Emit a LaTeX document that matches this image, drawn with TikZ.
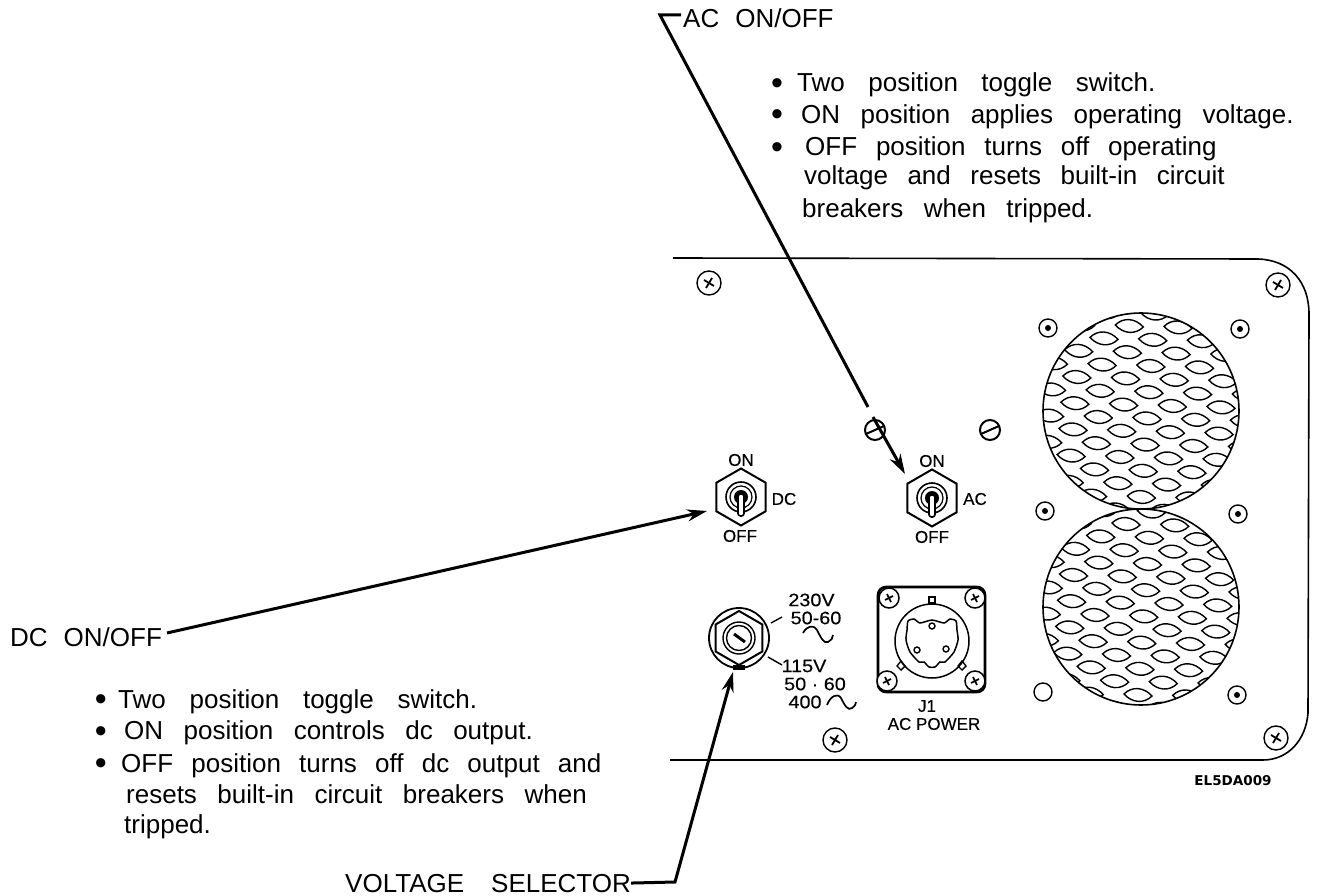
\documentclass[tikz,border=0pt]{standalone}
\usepackage{fontspec}
\setmainfont{Liberation Sans}
\newfontfamily\platefont{Liberation Sans}[FakeBold=0.3]
\newfontfamily\platewide{Liberation Sans}[FakeBold=0.3,FakeStretch=1.1]
\newfontfamily\tagfont{DejaVu Sans}
\usetikzlibrary{arrows.meta,shapes.geometric}
\newcommand{\gapfont}[1]{\fontsize{26}{30}\selectfont\spaceskip=#1\relax}
\tikzset{
  note/.style={anchor=base west,inner sep=0pt,font=\gapfont{20.5pt}},
  wordgap/.style={font=\gapfont{#1}},
  dotmark/.style={anchor=base west,inner sep=0pt,font=\fontsize{34}{36}\selectfont},
  plate/.style={inner sep=0pt,font=\platefont\fontsize{17}{19}\selectfont},
  platebig/.style={inner sep=0pt,font=\platewide\fontsize{18}{19}\selectfont},
  leader/.style={line width=3pt,-{Stealth[length=20pt,width=12pt]}},
  hexnut/.style={regular polygon,regular polygon sides=6,shape border rotate=30,draw,line width=2pt,inner sep=0pt,minimum size=#1},
}
\begin{document}
\begin{tikzpicture}[x=1pt,y=-1pt]
  \useasboundingbox (0,0) rectangle (1318,896);

  %# PANEL
  \draw[line width=1.6pt] (673,258) -- (1258,259) .. controls (1290,260) and (1309,282) .. (1309,314) -- (1308,713) .. controls (1306,740) and (1288,760) .. (1263,760) -- (670,760);

  %# SCREWS ON THE PANEL
  \foreach \x/\y in {709/283,1278/285,1276/738,835/740}{
    \draw[line width=1.4pt] (\x,\y) circle (12);
    \draw[line width=1.8pt] (\x-5,\y-3) -- (\x+5,\y+3) (\x-3,\y+5) -- (\x+3,\y-5);
  }
  \foreach \x/\y in {1048/328,1240/329,1045/511,1238/514,1237/695}{
    \draw[line width=1.4pt] (\x,\y) circle (9);
    \fill (\x,\y) circle (3);
  }
  \draw[line width=1.4pt] (1043,692) circle (9);
  \foreach \x/\y in {875/430,990/430}{
    \draw[line width=2pt] (\x,\y) circle (10);
    \draw[line width=2pt] (\x-9,\y+4) -- (\x+9,\y-4);
  }

  %# GRILLES
  \foreach \cx/\cy/\ox/\oy in {1141/411/1129.3/326,1141/607/1126/524}{
    \begin{scope}
      \clip (\cx,\cy) circle (98);
      \foreach \j in {-1,...,16}{
        \foreach \i in {-8,...,8}{
          \pgfmathsetmacro{\xa}{\ox+48.7*\i-25.3*\j}
          \pgfmathsetmacro{\ya}{\oy+1.4*\i+12.4*\j}
          \draw[line width=1.4pt] (\xa-14,\ya-1) .. controls (\xa-6,\ya-9) and (\xa+6,\ya-8) .. (\xa+14,\ya+1) .. controls (\xa+6,\ya+9) and (\xa-6,\ya+8) .. cycle;
        }
      }
    \end{scope}
    \draw[line width=1.6pt] (\cx,\cy) circle (98);
  }

  %# TOGGLE SWITCHES
  \node[hexnut=57pt] (dcswitch) at (741,497) {};
  \node[hexnut=57pt] (acswitch) at (932,498) {};
  \foreach \x/\y in {741/497,932/498}{
    \draw[line width=1.6pt] (\x,\y) circle (15);
    \draw[line width=1.2pt] (\x,\y) circle (11);
    \fill (\x,\y) circle (7);
    \draw[line width=1.6pt,fill=white,rounded corners=2.5pt] (\x-3,\y-3) rectangle (\x+3,\y+19);
  }
  \node[plate] (dcon) at (741,460) {ON};
  \node[plate] (dcoff) at (740,536) {OFF};
  \node[plate] (dcname) at (784,499) {DC};
  \node[plate] (acon) at (932,461) {ON};
  \node[plate] (acoff) at (932,537) {OFF};
  \node[plate] (acname) at (975,499) {AC};

  %# VOLTAGE SELECTOR
  \draw[line width=1.8pt] (739,638) circle (30);
  \node[hexnut=54pt] (volsel) at (739,638) {};
  \draw[line width=1.4pt] (739,638) circle (16);
  \draw[line width=1.4pt] (739,638) circle (12.5);
  \draw[line width=3pt] (734,634) -- (745,642);
  \fill (733,665) rectangle (745,670);
  \node[platebig] (volhi) at (811.5,600) {230V};
  \node[platebig] (volhia) at (816,618) {50-60};
  \node[platebig] (vollo) at (804,666) {115V};
  \node[platebig] (volloa) at (815,684) {50 · 60};
  \node[platebig] (volfour) at (805,702) {400};
  \draw[line width=1.4pt] (771,623) -- (782,617);
  \draw[line width=1.4pt] (768,657) -- (782,665);
  \draw[line width=1.7pt] (803,633) .. controls (807,626) and (813,624) .. (817,630) .. controls (821,638) and (824,644) .. (828,642) .. controls (831,641) and (833,638) .. (833,635);
  \draw[line width=1.7pt] (827,705) .. controls (830,697) and (837,692) .. (841,698) .. controls (845,706) and (848,711) .. (852,708) .. controls (855,706) and (856,704) .. (856,702);

  %# J1 CONNECTOR
  \draw[line width=2.6pt,rounded corners=8pt] (878,587) rectangle (985,692);
  \draw[line width=1.5pt] (932,641) circle (37);
  \draw[line width=1.5pt] plot[smooth cycle,tension=.4] coordinates {(908,621) (914,619) (920,623) (932,620) (944,623) (950,619) (956,621) (957,630) (958,640) (954,652) (945,662) (940,662) (935,667) (929,667) (924,662) (919,662) (910,652) (906,640) (907,630)};
  \draw[line width=1.4pt] (929,597) rectangle (935,603);
  \draw[line width=1.4pt] (901,661) -- (905,666) -- (901,670) -- (897,666) -- cycle;
  \draw[line width=1.4pt] (962,661) -- (966,666) -- (962,670) -- (958,666) -- cycle;
  \foreach \x/\y in {932/626,917/650,946/649}{
    \draw[line width=1.4pt] (\x,\y) circle (3);
  }
  \foreach \x/\y in {889/598,975/598,887/681,975/681}{
    \draw[line width=1.5pt,fill=white] (\x,\y) circle (10);
    \draw[line width=1.7pt] (\x-4,\y+2) -- (\x+4,\y-2) (\x-2,\y-4) -- (\x+2,\y+4);
  }
  \node[plate] (jname) at (927,706) {J1};
  \node[plate] (jpower) at (934,724) {AC POWER};

  %# AC NOTES
  \node[note] (aclabel) at (683,28) {AC\hspace{16pt}ON/OFF};
  \node[dotmark] (acbullet) at (771,94.6) {•};
  \node[note,wordgap=23.5pt] (acone) at (797,92) {Two position toggle switch.};
  \node[dotmark] (acbullettwo) at (771,125.6) {•};
  \node[note] (actwo) at (801,124) {ON position applies operating voltage.};
  \node[dotmark] (acbulletthree) at (771,158.6) {•};
  \node[note,wordgap=18.8pt] (acthree) at (805,156) {OFF position turns off operating};
  \node[note,wordgap=19.5pt] (acfour) at (804,185) {voltage and resets built-in circuit};
  \node[note] (acfive) at (802,218) {breakers when tripped.};

  %# DC NOTES
  \node[note] (dclabel) at (10,646) {DC\hspace{16pt}ON/OFF};
  \node[dotmark] (dcbullet) at (94.6,710.6) {•};
  \node[note,wordgap=23.8pt] (dcone) at (118,708) {Two position toggle switch.};
  \node[dotmark] (dcbullettwo) at (94.6,742.6) {•};
  \node[note] (dctwo) at (124,739) {ON position controls dc output.};
  \node[dotmark] (dcbulletthree) at (94.6,774.6) {•};
  \node[note,wordgap=18.2pt] (dcthree) at (121,772) {OFF position turns off dc output and};
  \node[note] (dcfour) at (126,803) {resets built-in circuit breakers when};
  \node[note] (dcfive) at (124,833) {tripped.};

  %# VOLTAGE NOTE
  \node[note] (vollabel) at (345,892) {VOLTAGE\hspace{27pt}SELECTOR};
  \node[inner sep=0pt,font=\tagfont\bfseries\fontsize{13.5}{16}\selectfont] (tagname) at (1233,781) {EL5DA009};

  %# LEADERS
  \coordinate (actick) at (681,15);
  \coordinate (acbend) at (660,15);
  \coordinate (acgap) at (868,407);
  \coordinate (acresume) at (873,417);
  \coordinate (actip) at (905,474);
  \coordinate (dcstart) at (167,633);
  \coordinate (dctip) at (707,511);
  \coordinate (volbend) at (675,882);
  \coordinate (voltip) at (733,672);
  \draw[line width=3pt] (actick) -- (acbend) -- (acgap);
  \draw[leader] (acresume) -- (actip);
  \draw[leader] (dcstart) -- (dctip);
  \draw[leader] (vollabel.east) -- (volbend) -- (voltip);
\end{tikzpicture}
\end{document}
